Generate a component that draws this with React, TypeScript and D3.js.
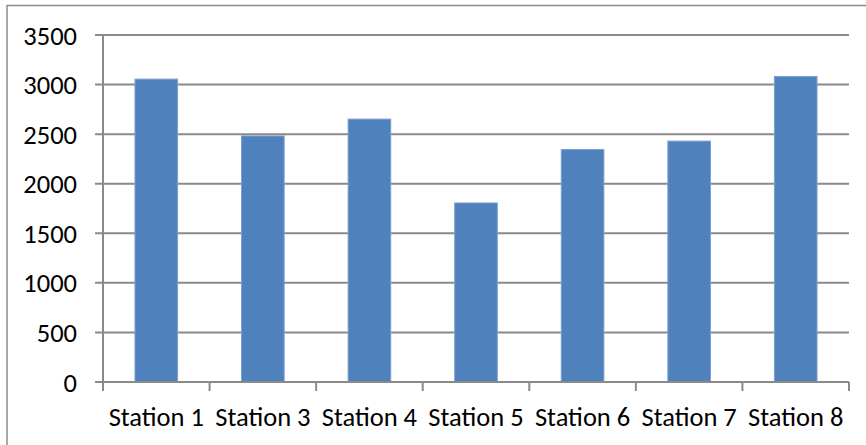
import React from "react";
import * as d3 from "d3";

// Stations and their measured totals
const stations = ["Station 1", "Station 3", "Station 4", "Station 5", "Station 6", "Station 7", "Station 8"];
const totals = [3055, 2482, 2652, 1806, 2345, 2430, 3082];
const yTicks = [0, 500, 1000, 1500, 2000, 2500, 3000, 3500];

const W = 866;
const H = 445;
const FONT = "Carlito, Calibri, Lato, 'Open Sans', sans-serif";

export default function App() {
  const plot = { left: 103, right: 849, top: 35, bottom: 382 };

  const x = d3
    .scaleBand<string>()
    .domain(stations)
    .range([plot.left, plot.right])
    .paddingInner(0.6)
    .paddingOuter(0.3);

  const y = d3.scaleLinear().domain([0, 3500]).range([plot.bottom, plot.top]);

  const step = (plot.right - plot.left) / stations.length;
  const tickXs = d3.range(stations.length + 1).map((i) => plot.left + i * step);

  const grid = "#8a8a8a";

  return (
    <svg
      width={W}
      height={H}
      style={{ position: "absolute", left: 0, top: 0, background: "#fff" }}
    >
      {/* chart frame */}
      <line x1={7} x2={W} y1={5.5} y2={5.5} stroke="#8c8c8c" strokeWidth={1.5} />
      <line x1={7} x2={7} y1={5} y2={H} stroke="#8c8c8c" strokeWidth={1.5} />

      {/* horizontal gridlines with left tick stubs */}
      {yTicks.map((t) => (
        <line
          key={"g" + t}
          x1={95}
          x2={plot.right}
          y1={y(t)}
          y2={y(t)}
          stroke={grid}
          strokeWidth={2}
        />
      ))}

      {/* bars */}
      {stations.map((s, i) => (
        <rect
          key={s}
          x={x(s)!}
          y={y(totals[i])}
          width={x.bandwidth()}
          height={plot.bottom - y(totals[i])}
          fill="#4F81BD"
          stroke="#7ea2cf"
          strokeWidth={1}
        />
      ))}

      {/* value axis */}
      <line x1={plot.left} x2={plot.left} y1={plot.top} y2={plot.bottom + 9} stroke={grid} strokeWidth={2} />
      {/* category axis */}
      <line x1={95} x2={plot.right} y1={plot.bottom} y2={plot.bottom} stroke={grid} strokeWidth={2} />
      {tickXs.map((tx, i) => (
        <line
          key={"t" + i}
          x1={tx}
          x2={tx}
          y1={plot.bottom}
          y2={plot.bottom + 9}
          stroke={grid}
          strokeWidth={2}
        />
      ))}

      {/* y tick labels */}
      {yTicks.map((t) => (
        <text
          key={"l" + t}
          x={77}
          y={y(t)}
          dy="0.36em"
          textAnchor="end"
          fontFamily={FONT}
          fontSize={26.5}
          fill="#000"
        >
          {t}
        </text>
      ))}

      {/* category labels */}
      {stations.map((s) => (
        <text
          key={"c" + s}
          x={x(s)! + x.bandwidth() / 2}
          y={426}
          textAnchor="middle"
          fontFamily={FONT}
          fontSize={26.5}
          fill="#000"
        >
          {s}
        </text>
      ))}
    </svg>
  );
}
